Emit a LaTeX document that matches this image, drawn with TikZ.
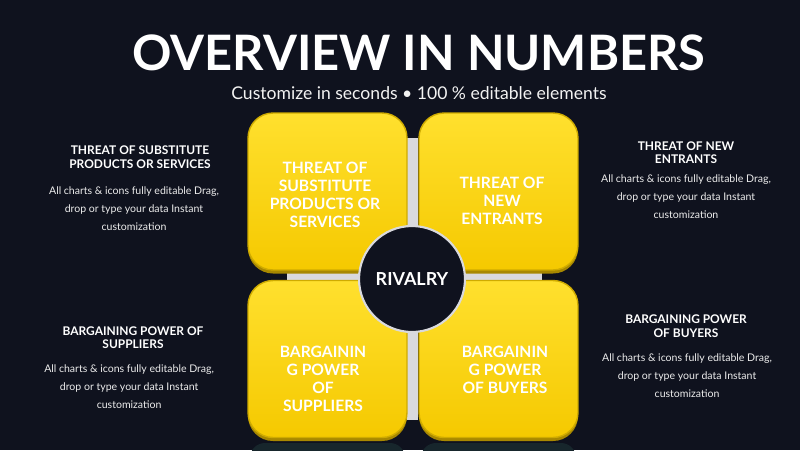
\documentclass[tikz,border=0pt]{standalone}
\usepackage{xcolor}
\usepackage{fontspec}
\setmainfont{Lato}
\usetikzlibrary{positioning,shadows}

\definecolor{bgdark}{HTML}{0F121E}
\definecolor{forceyellow}{HTML}{F5C900}
\definecolor{forcelight}{HTML}{FFE02E}
\definecolor{forcerim}{HTML}{A88800}
\definecolor{forceedge}{HTML}{CFAB00}
\definecolor{crossgray}{HTML}{D9D9DD}
\definecolor{reflect}{HTML}{17262C}

\tikzset{
  force/.style={rectangle, rounded corners=0.5cm, minimum width=3.18cm, minimum height=3.14cm,
    top color=forcelight, bottom color=forceyellow, draw=forceedge, line width=0.8pt,
    copy shadow={shadow xshift=0pt, shadow yshift=-2pt, fill=forcerim, draw=none}},
  forcetext/.style={text=white, align=center, font=\bfseries\fontsize{8.9}{10.2}\selectfont},
  sidehead/.style={text=white, align=center, font=\bfseries\fontsize{6.8}{7.6}\selectfont},
  sidebody/.style={text=white!85!gray, align=center, font=\fontsize{6}{10.2}\selectfont}
}

\begin{document}
\begin{tikzpicture}[x=0.02cm, y=-0.02cm, node distance=5pt]
    \fill[bgdark] (0,0) rectangle (800,450);
    \useasboundingbox (0,0) rectangle (800,450);

    % title
    \node (title) [text=white, font=\bfseries\fontsize{27.8}{30}\selectfont] at (419,53) {OVERVIEW IN NUMBERS};
    \node (subtitle) [text=white!90!gray, font=\fontsize{10}{12}\selectfont] at (419,93) {Customize in seconds \textbullet{} 100 \% editable elements};

    % cross behind the boxes
    \fill[crossgray] (407,138) rectangle (418,420);
    \fill[crossgray] (287,272) rectangle (542,280);

    % reflections
    \fill[reflect, rounded corners=0.3cm] (250,443) rectangle (405,470);
    \fill[reflect, rounded corners=0.3cm] (421,443) rectangle (576,470);

    % the four forces
    \node (substBox) [force] at (327.5,191.5) {};
    \node (entrantBox) [force] at (498.5,191.5) {};
    \node (supplierBox) [force] at (327.5,359) {};
    \node (buyerBox) [force] at (498.5,359) {};

    \node (substLabel) [forcetext] at (325,195) {THREAT OF\\SUBSTITUTE\\PRODUCTS OR\\SERVICES};
    \node (entrantLabel) [forcetext] at (502,201) {THREAT OF\\NEW\\ENTRANTS};
    \node (supplierLabel) [forcetext] at (323,379) {BARGAININ\\G POWER\\OF\\SUPPLIERS};
    \node (buyerLabel) [forcetext] at (505,370) {BARGAININ\\G POWER\\OF BUYERS};

    % centre
    \node (rivalry) [circle, fill=bgdark, draw=crossgray, line width=1.2pt, minimum size=2.12cm,
      text=white, font=\bfseries\fontsize{10.2}{12}\selectfont] at (412,279) {RIVALRY};

    % side texts
    \node (substHead) [sidehead] at (140,157) {THREAT OF SUBSTITUTE\\PRODUCTS OR SERVICES};
    \node (substText) [sidebody, below=3.8pt of substHead, xshift=-3.4pt] {All charts \& icons fully editable Drag,\\drop or type your data Instant\\customization};

    \node (entrantHead) [sidehead] at (686,153) {THREAT OF NEW\\ENTRANTS};
    \node (entrantText) [sidebody, below=-0.8pt of entrantHead] {All charts \& icons fully editable Drag,\\drop or type your data Instant\\customization};

    \node (supplierHead) [sidehead] at (133,337.5) {BARGAINING POWER OF\\SUPPLIERS};
    \node (supplierText) [sidebody, below=2.1pt of supplierHead, xshift=-2.2pt] {All charts \& icons fully editable Drag,\\drop or type your data Instant\\customization};

    \node (buyerHead) [sidehead] at (686,326) {BARGAINING POWER\\OF BUYERS};
    \node (buyerText) [sidebody, below=2.6pt of buyerHead, xshift=0.6pt] {All charts \& icons fully editable Drag,\\drop or type your data Instant\\customization};
\end{tikzpicture}
\end{document}
